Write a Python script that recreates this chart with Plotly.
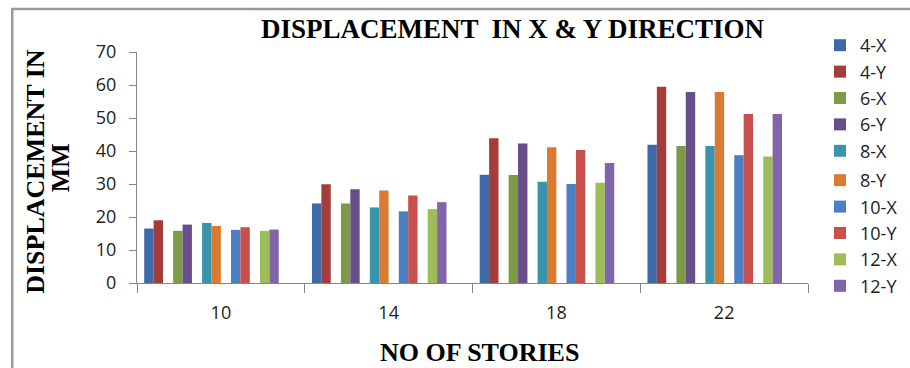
import plotly.graph_objects as go

# Number of stories (x categories)
stories = ["10", "14", "18", "22"]

# Series names: model size and direction
series_names = ["4-X", "4-Y", "6-X", "6-Y", "8-X", "8-Y", "10-X", "10-Y", "12-X", "12-Y"]

# Displacement values in mm, one list per series (in story order)
disp_4x = [16.5, 24.1, 32.8, 41.9]
disp_4y = [19.0, 29.9, 43.9, 59.5]
disp_6x = [15.8, 24.1, 32.7, 41.5]
disp_6y = [17.7, 28.4, 42.3, 57.9]
disp_8x = [18.2, 22.9, 30.7, 41.5]
disp_8y = [17.3, 28.0, 41.1, 57.9]
disp_10x = [16.1, 21.7, 30.0, 38.7]
disp_10y = [16.9, 26.5, 40.3, 51.2]
disp_12x = [15.8, 22.4, 30.4, 38.3]
disp_12y = [16.2, 24.5, 36.4, 51.2]

series_values = [disp_4x, disp_4y, disp_6x, disp_6y, disp_8x,
                 disp_8y, disp_10x, disp_10y, disp_12x, disp_12y]

colors = ["#3D69A6", "#A33C3A", "#7D9B46", "#684F8C", "#3A94AB",
          "#DA7B31", "#4B7FC2", "#C74F4C", "#9CBD58", "#8264AA"]

# Bar geometry in category units: X/Y bars of each model sit side by side
bar_w = 0.056
pair_step = 0.1725
first_left = -0.5 + 0.043

W, H = 910, 368
L, R, T, B = 137, 90, 52, 85
pw = W - L - R
ph = H - T - B

# The ten legend entries are split over two stacked legends so that
# neither one needs a scrollbar.
fig = go.Figure()
for i, (name, vals) in enumerate(zip(series_names, series_values)):
    offset = first_left + (i // 2) * pair_step + (i % 2) * bar_w
    fig.add_trace(go.Bar(
        x=stories, y=vals, name=name,
        width=bar_w, offset=offset,
        marker=dict(color=colors[i], line=dict(width=0)),
        legend="legend" if i < 5 else "legend2",
        legendgroup=name,
    ))


def px_x(px):
    return (px - L) / pw


def px_y(py):
    return (H - B - py) / ph


axis_color = "#868686"
text_color = "#222222"
serif = "Liberation Serif, Times New Roman, serif"
sans = "Open Sans, sans-serif"

legend_style = dict(
    x=820 / W, xref="container", xanchor="left",
    yref="container", yanchor="top",
    font=dict(family=sans, size=18, color=text_color),
    tracegroupgap=0,
    bgcolor="rgba(0,0,0,0)",
)

fig.update_layout(
    width=W, height=H,
    margin=dict(l=L, r=R, t=T, b=B),
    paper_bgcolor="white", plot_bgcolor="white",
    barmode="overlay",
    showlegend=True,
    legend=dict(legend_style, y=1 - 27 / H),
    legend2=dict(legend_style, y=1 - 162 / H),
    xaxis=dict(
        type="category", tickson="boundaries",
        showline=True, linecolor=axis_color, linewidth=1,
        ticks="outside", ticklen=9, tickcolor=axis_color,
        tickfont=dict(family=sans, size=18, color=text_color),
        ticklabelstandoff=13,
        showgrid=False, zeroline=False,
        range=[-0.5, 3.5],
    ),
    yaxis=dict(
        range=[0, 70], dtick=10, tick0=0,
        showline=True, linecolor=axis_color, linewidth=1,
        ticks="outside", ticklen=7, tickcolor=axis_color,
        tickfont=dict(family=sans, size=18, color=text_color),
        ticklabelstandoff=9,
        showgrid=False, zeroline=False,
    ),
    annotations=[
        dict(text="<b>DISPLACEMENT  IN X &amp; Y DIRECTION</b>",
             x=px_x(520), y=px_y(29), xref="paper", yref="paper",
             showarrow=False, xanchor="center", yanchor="middle",
             font=dict(family=serif, size=27, color="black")),
        dict(text="<b>NO OF STORIES</b>",
             x=px_x(486), y=px_y(352), xref="paper", yref="paper",
             showarrow=False, xanchor="center", yanchor="middle",
             font=dict(family=serif, size=26, color="black")),
        dict(text="<b>DISPLACEMENT IN</b>",
             x=px_x(33), y=px_y(171), xref="paper", yref="paper",
             showarrow=False, xanchor="center", yanchor="middle",
             textangle=-90,
             font=dict(family=serif, size=26, color="black")),
        dict(text="<b>MM</b>",
             x=px_x(59), y=px_y(168), xref="paper", yref="paper",
             showarrow=False, xanchor="center", yanchor="middle",
             textangle=-90,
             font=dict(family=serif, size=26, color="black")),
    ],
    shapes=[
        dict(type="rect", xref="paper", yref="paper",
             x0=px_x(10), x1=px_x(W + 20), y0=px_y(H + 20), y1=px_y(9),
             line=dict(color="#9a9a9a", width=2.5), fillcolor="rgba(0,0,0,0)",
             layer="below"),
    ],
)

fig.write_html("out.html")
